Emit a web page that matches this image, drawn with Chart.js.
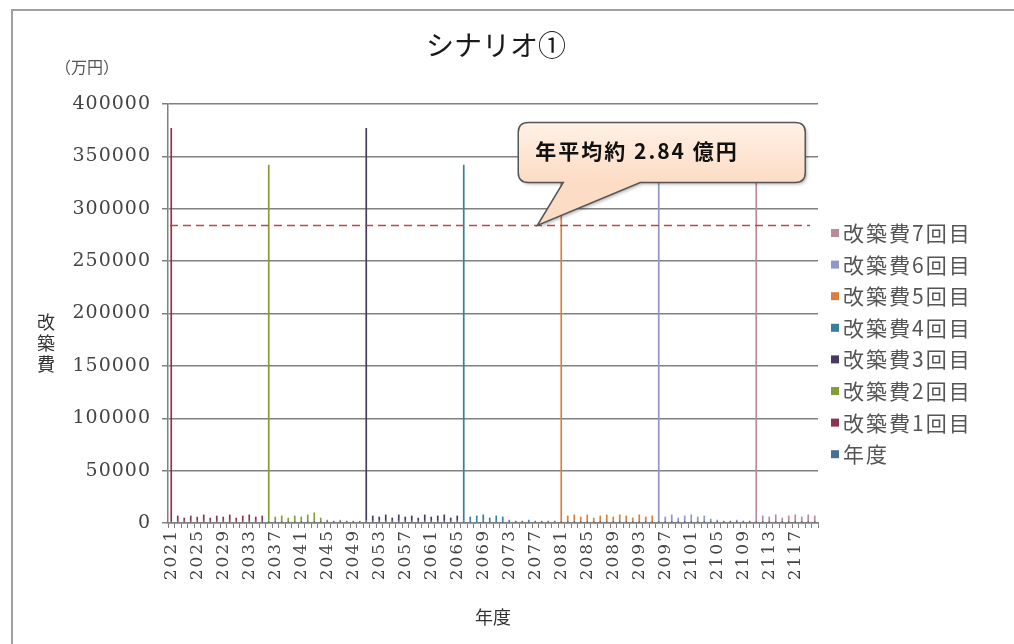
<!DOCTYPE html>
<html>
<head>
<meta charset="utf-8">
<script src="https://cdn.jsdelivr.net/npm/chart.js@4.4.1/dist/chart.umd.min.js"></script>
<style>
  html, body { margin: 0; padding: 0; background: #fff; }
  canvas { display: block; }
</style>
</head>
<body>
<canvas id="chart" width="1014" height="644"></canvas>
<script>
// 年度 (2021〜2120)
const years = [
  '2021','2022','2023','2024','2025','2026','2027','2028','2029','2030',
  '2031','2032','2033','2034','2035','2036','2037','2038','2039','2040',
  '2041','2042','2043','2044','2045','2046','2047','2048','2049','2050',
  '2051','2052','2053','2054','2055','2056','2057','2058','2059','2060',
  '2061','2062','2063','2064','2065','2066','2067','2068','2069','2070',
  '2071','2072','2073','2074','2075','2076','2077','2078','2079','2080',
  '2081','2082','2083','2084','2085','2086','2087','2088','2089','2090',
  '2091','2092','2093','2094','2095','2096','2097','2098','2099','2100',
  '2101','2102','2103','2104','2105','2106','2107','2108','2109','2110',
  '2111','2112','2113','2114','2115','2116','2117','2118','2119','2120'
];

// 各回の改築費（万円）: 開始年から順に
const cycleStart = ['2021', '2036', '2051', '2066', '2081', '2096', '2111'];
const cost1 = [375000, 5000, 3000, 5000, 4000, 6000, 3000, 5000, 4000, 6000, 3000, 5000, 6000, 4000, 5000];
const cost2 = [340000, 4000, 5000, 3000, 5000, 4000, 6000, 8000, 3000, 1000, 0, 1000, 0, 0, 0];
const cost3 = [375000, 5000, 4000, 6000, 3000, 6000, 4000, 5000, 3000, 6000, 4000, 5000, 6000, 3000, 5000];
const cost4 = [340000, 4000, 5000, 6000, 3000, 5000, 4000, 1000, 0, 0, 1000, 0, 0, 0, 0];
const cost5 = [375000, 5000, 6000, 4000, 6000, 3000, 5000, 6000, 4000, 6000, 5000, 3000, 6000, 4000, 5000];
const cost6 = [340000, 4000, 6000, 3000, 5000, 6000, 4000, 5000, 2000, 1000, 0, 0, 1000, 0, 0];
const cost7 = [375000, 5000, 4000, 6000, 3000, 5000, 6000, 4000, 6000, 5000];

const seriesNames = ['年度', '改築費1回目', '改築費2回目', '改築費3回目', '改築費4回目', '改築費5回目', '改築費6回目', '改築費7回目'];
const seriesColors = ['#4a6f95', '#8a3450', '#869c3a', '#463a60', '#367fa0', '#d98040', '#8f97c8', '#b9899c'];

const AVG = 284000; // 年平均（万円）
const AVG_LABEL = '年平均約 2.84 億円';
const CALLOUT_YEAR = '2077';

// 年度系列は年の値そのもの
const nendoValues = years.map(Number);

function spread(startYear, values) {
  const arr = years.map(() => null);
  const s = years.indexOf(startYear);
  values.forEach((v, i) => { arr[s + i] = v; });
  return arr;
}

const costs = [cost1, cost2, cost3, cost4, cost5, cost6, cost7];
const datasets = [{
  label: seriesNames[0],
  data: nendoValues,
  backgroundColor: seriesColors[0]
}];
costs.forEach((c, i) => {
  datasets.push({
    label: seriesNames[i + 1],
    data: spread(cycleStart[i], c),
    backgroundColor: seriesColors[i + 1]
  });
});
datasets.forEach(d => {
  d.barPercentage = 0.26;
  d.categoryPercentage = 1.0;
  d.borderWidth = 0;
});

const serifFont = '"DejaVu Serif", "Liberation Serif", serif';
const jpFont = '"Noto Sans CJK JP", "Noto Sans", sans-serif';

// 目盛ラベルの字間（元図の幅広な数字に合わせる）
function spaceLabels(scale, spacing) {
  if (scale._spaced) return;
  const orig = scale.drawLabels.bind(scale);
  scale.drawLabels = function(area) {
    const ctx = this.ctx;
    ctx.save();
    ctx.letterSpacing = spacing;
    orig(area);
    ctx.restore();
  };
  scale._spaced = true;
}

// 背景・枠・タイトル等
const decorPlugin = {
  id: 'decor',
  beforeDraw(chart) {
    spaceLabels(chart.scales.x, '2px');
    spaceLabels(chart.scales.y, '1px');
    const ctx = chart.ctx;
    ctx.save();
    ctx.fillStyle = '#fff';
    ctx.fillRect(0, 0, chart.width, chart.height);
    ctx.strokeStyle = '#a0a0a0';
    ctx.lineWidth = 2;
    ctx.beginPath();
    ctx.moveTo(12, chart.height);
    ctx.lineTo(12, 10);
    ctx.lineTo(chart.width, 10);
    ctx.stroke();
    ctx.restore();
  },
  afterDraw(chart) {
    const ctx = chart.ctx;
    ctx.save();
    ctx.fillStyle = '#1a1a1a';
    ctx.font = '28px ' + jpFont;
    ctx.textAlign = 'center';
    ctx.textBaseline = 'middle';
    ctx.fillText('シナリオ①', 496, 45);

    ctx.fillStyle = '#555';
    ctx.font = '16px ' + jpFont;
    ctx.fillText('（万円）', 87, 67);

    ctx.fillStyle = '#333';
    ctx.font = '18px ' + jpFont;
    ['改', '築', '費'].forEach((ch, i) => ctx.fillText(ch, 46, 322 + i * 21));
    ctx.restore();
  }
};

// 平均線
const avgLinePlugin = {
  id: 'avgLine',
  afterDatasetsDraw(chart) {
    const ctx = chart.ctx;
    const area = chart.chartArea;
    const y = chart.scales.y.getPixelForValue(AVG);
    ctx.save();
    ctx.strokeStyle = '#b84a48';
    ctx.lineWidth = 1.5;
    ctx.setLineDash([8, 5]);
    ctx.beginPath();
    ctx.moveTo(area.left + 2, y);
    ctx.lineTo(area.right - 8, y);
    ctx.stroke();
    ctx.restore();
  }
};

// 吹き出し
const calloutPlugin = {
  id: 'callout',
  afterDatasetsDraw(chart) {
    const ctx = chart.ctx;
    const tipX = chart.scales.x.getPixelForValue(years.indexOf(CALLOUT_YEAR)) + 2;
    const tipY = chart.scales.y.getPixelForValue(AVG);
    const l = tipX - 19, r = tipX + 268, t = tipY - 103, b = tipY - 43, rad = 10;
    const b1 = tipX + 26, b2 = tipX + 103;
    ctx.save();
    ctx.beginPath();
    ctx.moveTo(l + rad, t);
    ctx.lineTo(r - rad, t);
    ctx.quadraticCurveTo(r, t, r, t + rad);
    ctx.lineTo(r, b - rad);
    ctx.quadraticCurveTo(r, b, r - rad, b);
    ctx.lineTo(b2, b);
    ctx.lineTo(tipX, tipY);
    ctx.lineTo(b1, b);
    ctx.lineTo(l + rad, b);
    ctx.quadraticCurveTo(l, b, l, b - rad);
    ctx.lineTo(l, t + rad);
    ctx.quadraticCurveTo(l, t, l + rad, t);
    ctx.closePath();
    const g = ctx.createLinearGradient(0, t, 0, b);
    g.addColorStop(0, '#fff1e6');
    g.addColorStop(1, '#fcdcc4');
    ctx.shadowColor = 'rgba(0,0,0,0.25)';
    ctx.shadowBlur = 3;
    ctx.shadowOffsetX = 2;
    ctx.shadowOffsetY = 2;
    ctx.fillStyle = g;
    ctx.fill();
    ctx.shadowColor = 'transparent';
    ctx.strokeStyle = '#555';
    ctx.lineWidth = 1.5;
    ctx.stroke();
    ctx.fillStyle = '#111';
    ctx.font = 'bold 21px ' + jpFont;
    ctx.letterSpacing = '2px';
    ctx.textAlign = 'left';
    ctx.textBaseline = 'middle';
    ctx.fillText(AVG_LABEL, l + 17, t + 29);
    ctx.restore();
  }
};

// 凡例（逆順）
const legendPlugin = {
  id: 'sideLegend',
  afterDraw(chart) {
    const ctx = chart.ctx;
    ctx.save();
    ctx.font = '21px ' + jpFont;
    ctx.letterSpacing = '2px';
    ctx.textAlign = 'left';
    ctx.textBaseline = 'middle';
    const items = chart.data.datasets.slice().reverse();
    items.forEach((ds, i) => {
      const y = 233 + i * 31.6;
      ctx.fillStyle = ds.backgroundColor;
      ctx.fillRect(831, y - 4, 8, 8);
      ctx.fillStyle = '#555';
      ctx.fillText(ds.label, 843, y);
    });
    ctx.restore();
  }
};

const gridColor = '#808080';

new Chart(document.getElementById('chart').getContext('2d'), {
  type: 'bar',
  data: { labels: years, datasets: datasets },
  options: {
    responsive: false,
    animation: false,
    devicePixelRatio: 1,
    layout: { padding: { left: 0, top: 104, right: 196, bottom: 0 } },
    plugins: {
      legend: { display: false },
      tooltip: { enabled: false }
    },
    scales: {
      x: {
        stacked: true,
        grid: { drawOnChartArea: false, drawTicks: true, tickLength: 5, color: gridColor, lineWidth: 1 },
        border: { color: gridColor, width: 1.5 },
        ticks: {
          autoSkip: false,
          maxRotation: 90,
          minRotation: 90,
          padding: 1,
          color: '#444',
          font: { family: serifFont, size: 17 },
          callback: function(value, index) {
            return index % 4 === 0 ? this.getLabelForValue(value) : '';
          }
        },
        title: {
          display: true,
          text: '年度',
          color: '#333',
          font: { family: jpFont, size: 18 },
          padding: { top: 4, bottom: 16 }
        },
        afterFit: function(scale) { scale.height = 121; }
      },
      y: {
        stacked: true,
        min: 0,
        max: 400000,
        grid: { color: gridColor, lineWidth: 1.5, tickLength: 6 },
        border: { color: gridColor, width: 1.5 },
        ticks: {
          stepSize: 50000,
          padding: 11,
          color: '#444',
          font: { family: serifFont, size: 19 },
          callback: function(value) { return String(value); }
        },
        afterFit: function(scale) { scale.width = 168; }
      }
    }
  },
  plugins: [decorPlugin, avgLinePlugin, calloutPlugin, legendPlugin]
});
</script>
</body>
</html>
